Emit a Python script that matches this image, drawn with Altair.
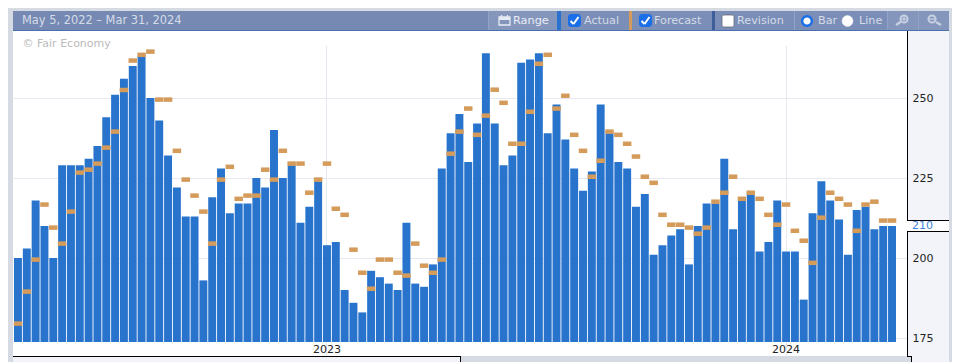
import altair as alt
import pandas as pd

# Weekly categories, May 5 2022 .. Mar 28 2024
weeks = [d.strftime("%Y-%m-%d") for d in pd.date_range("2022-05-05", periods=100, freq="7D")]

actual = [200, 203, 218, 210, 200, 229, 229, 229, 231, 235,
          244, 251, 256, 260, 263, 250, 243, 232, 222, 213,
          213, 193, 219, 228, 214, 217, 217, 225, 222, 240,
          225, 229, 211, 216, 224, 204, 205, 190, 186, 183,
          196, 194, 192, 190, 211, 192, 191, 198, 228, 239,
          245, 230, 242, 264, 242, 229, 232, 261, 262, 264,
          239, 248, 237, 228, 221, 227, 248, 239, 230, 228,
          216, 220, 201, 204, 207, 209, 198, 210, 217, 217,
          231, 209, 218, 220, 202, 205, 218, 202, 202, 187,
          214, 224, 218, 212, 201, 215, 216, 209, 210, 210]

forecast = [179.5, 189.5, 199.5, 216.7, 209.5, 204.5, 214.5, 226.7, 227.6, 229.5,
            234.5, 239.5, 252.5, 261.7, 263.5, 264.5, 249.5, 249.5, 233.5, 224.5,
            219.5, 214.5, 204.5, 224.5, 228.5, 218.5, 219.5, 219.5, 227.6, 224.5,
            233.5, 229.5, 229.5, 220.4, 224.5, 229.5, 215.4, 213.5, 202.6, 195.4,
            190.4, 199.5, 199.5, 195.4, 194.5, 204.5, 197.6, 195.4, 199.5, 232.6,
            239.5, 246.7, 238.5, 244.5, 252.6, 248.5, 235.7, 235.7, 245.7, 260.7,
            263.5, 246.7, 250.7, 238.5, 233.5, 225.4, 230.4, 239.5, 238.5, 235.7,
            231.7, 225.4, 223.5, 213.5, 210.4, 210.4, 209.5, 207.6, 209.5, 217.6,
            220.4, 225.4, 218.5, 220.4, 218.5, 213.5, 210.4, 216.7, 208.5, 205.4,
            198.5, 212.6, 220.4, 218.5, 216.7, 208.5, 216.7, 217.6, 211.7, 211.7]

year_ticks = ["2023-01-05", "2024-01-04"]
y_ticks = [175, 200, 225, 250]
last_value = [210]

df = pd.DataFrame({"week": weeks, "actual": actual, "forecast": forecast})

X0, Y0 = 13, 31          # page position of the plot origin
GRAY = "#d6dae3"
PANEL = "#f3f4f9"
HEAD = "#7589b3"
HEAD2 = "#7b8eb7"
BTN = "#8596bd"
TXT = "#d5dce9"
BLUE = "#2874cd"
ORANGE = "#d49b5b"
CHECK = "#1a6fe8"
FONT = "DejaVu Sans"

one = alt.Data(values=[{}])
layers = []


def rect(x0, y0, x1, y1, color, **kw):
    layers.append(alt.Chart(one).mark_rect(color=color, **kw).encode(
        x=alt.value(x0 - X0), x2=alt.value(x1 - X0),
        y=alt.value(y0 - Y0), y2=alt.value(y1 - Y0)))


def line(x0, y0, x1, y1, color="#000000", width=1):
    layers.append(alt.Chart(one).mark_rule(color=color, strokeWidth=width).encode(
        x=alt.value(x0 - X0), x2=alt.value(x1 - X0),
        y=alt.value(y0 - Y0), y2=alt.value(y1 - Y0)))


def label(x, y, s, color=TXT, size=11, **kw):
    layers.append(alt.Chart(one).mark_text(
        text=s, align="left", baseline="middle", font=FONT, fontSize=size, color=color, **kw
    ).encode(x=alt.value(x - X0), y=alt.value(y - Y0)))


def dot(x, y, size, fill, stroke, width=1.0):
    layers.append(alt.Chart(one).mark_point(
        filled=True, fill=fill, stroke=stroke, strokeWidth=width, size=size, opacity=1, shape="circle"
    ).encode(x=alt.value(x - X0), y=alt.value(y - Y0)))


def checkbox(x, checked):
    if checked:
        rect(x, 14, x + 13, 27, CHECK, cornerRadius=3)
        line(x + 2.5, 21, x + 5.5, 24, "#ffffff", 2)
        line(x + 5.5, 24, x + 10.5, 17, "#ffffff", 2)
    else:
        rect(x, 15, x + 12, 27, "#ffffff", cornerRadius=2, stroke="#6b6f78", strokeWidth=0.8)


# outer frame strips
rect(8, 8, 960, 11, GRAY)
rect(8, 11, 13, 362, GRAY)
rect(949, 11, 960, 362, GRAY)
rect(460, 356, 911, 362, GRAY)

# open tab around the last value
rect(907, 220, 949, 231, "#ffffff")
line(907.5, 31, 907.5, 220)
line(907.5, 231, 907.5, 356.5)
line(907, 220.5, 949, 220.5)
line(907, 231.5, 949, 231.5)
line(13, 356.5, 460.5, 356.5)
line(460.5, 356, 460.5, 362)
line(907, 356.5, 911.5, 356.5)
line(911.5, 356, 911.5, 362)

# header band
rect(13, 11, 949, 31, HEAD)
rect(489, 11, 887, 30, HEAD2)
rect(489, 11, 557, 30, BTN)
rect(888, 11, 918, 30, BTN)
rect(919, 11, 949, 30, BTN)
rect(13, 30, 949, 31, "#4a6fae")
rect(557, 11, 561, 30, "#2a72cf")
rect(629, 11, 632, 30, ORANGE)
rect(712, 11, 715, 30, "#3f5f9a")
for sep in [488, 794, 887, 918]:
    line(sep + 0.5, 11, sep + 0.5, 30, "#93a3c6")

label(22, 21, "May 5, 2022 \u2013 Mar 31, 2024", size=11.4)

# range button with calendar glyph
rect(499, 17, 510, 25, "none", stroke="#e6eaf3", strokeWidth=1.3)
rect(499, 17, 510, 20, "#e6eaf3")
line(501.5, 15, 501.5, 18, "#e6eaf3", 1.3)
line(507.5, 15, 507.5, 18, "#e6eaf3", 1.3)
label(513, 21, "Range", color="#e9edf5", size=11.3)

checkbox(568, True)
label(584, 21, "Actual", size=11.2)
checkbox(639, True)
label(654, 21, "Forecast", size=11.2)
checkbox(722, False)
label(737, 21, "Revision", size=11.2)

dot(807, 21, 95, "#ffffff", CHECK, 2.5)
label(818, 21, "Bar", size=11.2)
dot(847.5, 21, 120, "#ffffff", "#ffffff", 0.5)
label(859, 21, "Line", size=11.2)

# zoom buttons
dot(904, 19, 50, BTN, "#c7d0e2", 2)
line(896, 25, 900.5, 22, "#c7d0e2", 2.5)
line(901.5, 19, 906.5, 19, "#c7d0e2", 1.3)
line(904, 16.5, 904, 21.5, "#c7d0e2", 1.3)
dot(932, 19, 50, BTN, "#c7d0e2", 2)
line(936, 22, 941, 25, "#c7d0e2", 2.5)
line(929.5, 19, 934.5, 19, "#c7d0e2", 1.3)

label(22.5, 44, "\u00a9 Fair Economy", color="#bbbbbb", size=11)

x_enc = alt.X(
    "week:N",
    sort=None,
    scale=alt.Scale(domain=weeks, paddingInner=0.1, paddingOuter=0.68, align=0.083),
    axis=alt.Axis(
        values=year_ticks, title=None, labelAngle=0, grid=True, gridColor="#e8e8f2", gridWidth=1,
        domain=False, ticks=False, labelFont=FONT, labelFontSize=11, labelColor="#222222",
        labelExpr="slice(datum.label, 0, 4)", offset=-14, labelPadding=7, labelBaseline="middle",
        labelOverlap=False,
    ),
)
y_scale = alt.Scale(domain=[173.75, 270.94], range=[311, 0], nice=False, zero=False)
y_axis = alt.Axis(
    orient="right", values=y_ticks, title=None, grid=True, gridColor="#e8e8f2", gridWidth=1,
    domain=False, ticks=False, labelFont=FONT, labelFontSize=11, labelColor="#222222",
    labelPadding=5,
)

base = alt.Chart(df)
bars = base.mark_bar(color=BLUE).encode(
    x=x_enc,
    y=alt.Y("actual:Q", scale=y_scale, axis=y_axis, stack=None),
    y2=alt.value(311),
)
ticks = base.mark_tick(color=ORANGE, thickness=4.5, size=8.5, opacity=1).encode(
    x=alt.X("week:N", sort=None),
    y=alt.Y("forecast:Q", scale=y_scale),
)
current = alt.Chart(pd.DataFrame({"v": last_value})).mark_text(
    align="left", baseline="middle", font=FONT, fontSize=11, color="#3f83d8"
).encode(
    x=alt.value(899), y=alt.Y("v:Q", scale=y_scale), text=alt.Text("v:Q")
)

chart = alt.layer(*layers, bars, ticks, current).resolve_scale(x="shared", y="shared").properties(
    width=894,
    height=325,
    padding={"left": 5, "top": 23, "right": 45, "bottom": 6},
    autosize=alt.AutoSizeParams(type="none"),
    background=PANEL,
).configure_view(fill="#ffffff", stroke=None)

chart.save("out.html", embed_options={"renderer": "svg", "actions": False})
